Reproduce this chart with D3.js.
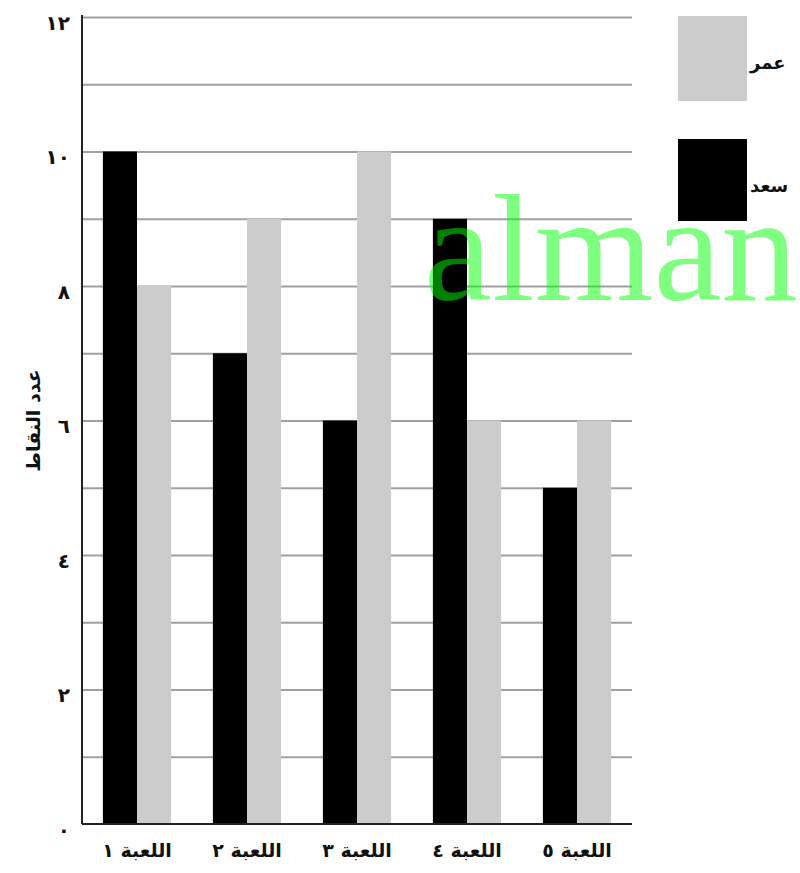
<!DOCTYPE html>
<html>
<head>
<meta charset="utf-8">
<script src="https://cdn.jsdelivr.net/npm/d3@7"></script>
<style>
  html, body { margin: 0; padding: 0; background: #fff; }
  svg { display: block; font-family: "DejaVu Sans", sans-serif; }
</style>
</head>
<body>
<svg id="chart" width="800" height="873"></svg>
<script>
// ── data ──
const games  = ["اللعبة ١", "اللعبة ٢", "اللعبة ٣", "اللعبة ٤", "اللعبة ٥"];
const saad   = [10, 7, 6, 9, 5];   // سعد (black)
const omar   = [8, 9, 10, 6, 6];   // عمر (gray)
const series = ["سعد", "عمر"];
const yTicks = [0, 2, 4, 6, 8, 10, 12];
const yTickLabels = ["٠", "٢", "٤", "٦", "٨", "١٠", "١٢"];
const yTitle = "عدد النقاط";
const legendOrder = ["عمر", "سعد"];

const COL = { "سعد": "#000000", "عمر": "#cccccc" };

const svg = d3.select("#chart");
const margin = { left: 82, top: 17, right: 168, bottom: 49 };
const W = 800 - margin.left - margin.right;   // 550
const H = 873 - margin.top - margin.bottom;   // 807

const g = svg.append("g").attr("transform", `translate(${margin.left},${margin.top})`);

const x = d3.scaleBand().domain(games).range([0, W]).paddingInner(0.38).paddingOuter(0.19);
const xs = d3.scaleBand().domain(series).range([0, x.bandwidth()]);
const y = d3.scaleLinear().domain([0, 12]).range([H, 0]);

// gridlines, one per unit
const grid = g.append("g").call(d3.axisLeft(y).tickValues(d3.range(1, 13)).tickSize(-W).tickFormat(""));
grid.select(".domain").remove();
grid.selectAll("line").attr("stroke", "#a0a0a0").attr("stroke-width", 2);

// bars
const rows = games.map((gm, i) => ({ game: gm, vals: [{ s: "سعد", v: saad[i] }, { s: "عمر", v: omar[i] }] }));
const grp = g.selectAll(".game").data(rows).join("g")
    .attr("transform", d => `translate(${x(d.game)},0)`);
grp.selectAll("rect").data(d => d.vals).join("rect")
    .attr("x", d => xs(d.s)).attr("width", xs.bandwidth())
    .attr("y", d => y(d.v)).attr("height", d => H - y(d.v))
    .attr("fill", d => COL[d.s]);

// y tick labels
const yAx = g.append("g").call(d3.axisLeft(y).tickValues(yTicks).tickSize(0).tickPadding(12)
    .tickFormat((d, i) => yTickLabels[i]));
yAx.select(".domain").remove();
yAx.selectAll("text").attr("font-size", 20).attr("font-weight", "bold").attr("fill", "#111")
    .attr("dy", "0.6em").attr("font-family", "DejaVu Sans, sans-serif");

// axis lines
g.append("line").attr("x1", 0).attr("x2", 0).attr("y1", -2).attr("y2", H)
    .attr("stroke", "#222").attr("stroke-width", 2);
g.append("line").attr("x1", 0).attr("x2", W).attr("y1", H).attr("y2", H)
    .attr("stroke", "#222").attr("stroke-width", 2);

// x labels
const xAx = g.append("g").attr("transform", `translate(0,${H})`)
    .call(d3.axisBottom(x).tickSize(0).tickPadding(20));
xAx.select(".domain").remove();
xAx.selectAll("text").attr("font-size", 19).attr("font-weight", "bold").attr("fill", "#111")
    .attr("font-family", "DejaVu Sans, sans-serif");

// y title
svg.append("text")
    .attr("transform", `translate(40,${margin.top + H / 2}) rotate(-90)`)
    .attr("text-anchor", "middle").attr("font-size", 19).attr("font-weight", "bold")
    .attr("fill", "#111").text(yTitle);

// legend
const lg = svg.append("g").attr("transform", "translate(678,16)");
legendOrder.forEach((s, i) => {
    lg.append("rect").attr("x", 0).attr("y", i * 123).attr("width", 69).attr("height", i ? 82 : 85)
        .attr("fill", COL[s]);
    lg.append("text").attr("x", 72).attr("y", i * 123 + 53)
        .attr("font-size", 18).attr("font-weight", "bold").attr("fill", "#111").text(s);
});

// watermark
svg.append("text").attr("x", 424).attr("y", 300)
    .attr("font-family", "Liberation Serif, serif").attr("font-size", 153)
    .attr("fill", "#00ff00").attr("fill-opacity", 0.5).text("alman");
</script>
</body>
</html>
